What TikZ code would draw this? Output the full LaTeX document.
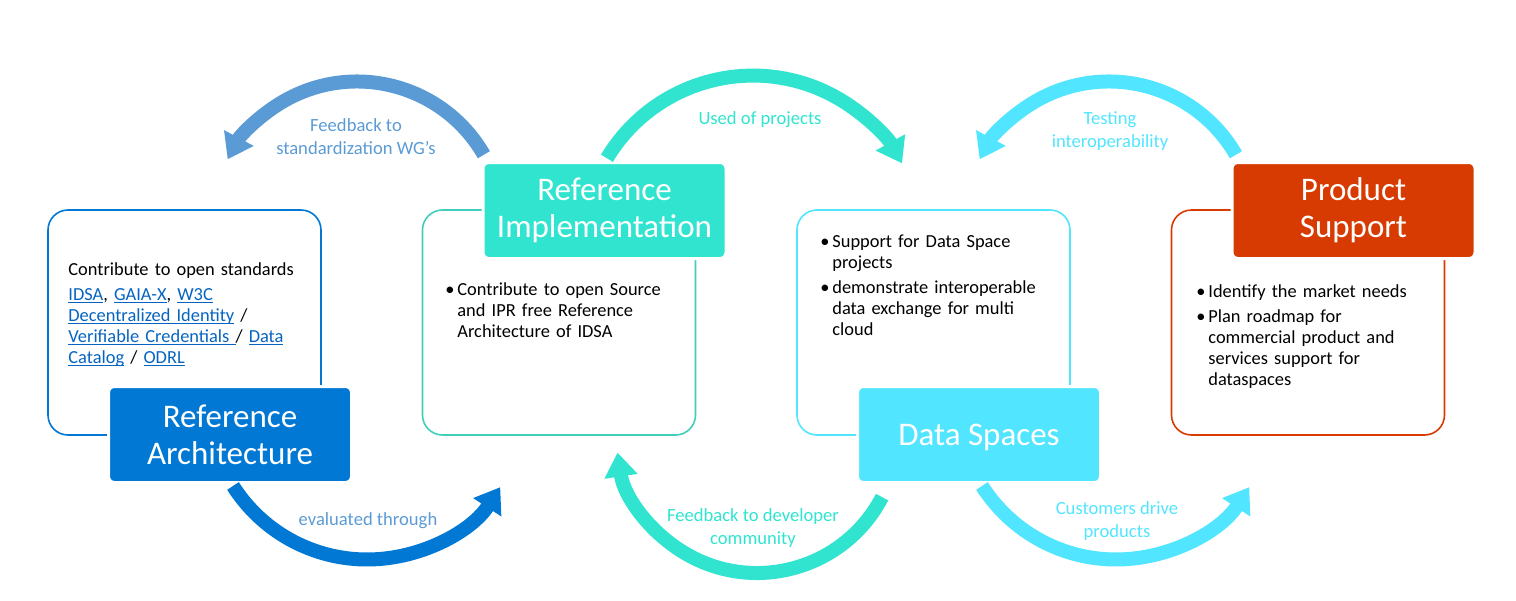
\documentclass[tikz,border=0pt]{standalone}
\usepackage{fontspec}
\setmainfont{Carlito}
\usetikzlibrary{arrows.meta}

\definecolor{archblue}{RGB}{0,120,212}
\definecolor{fbblue}{RGB}{91,155,213}
\definecolor{implteal}{RGB}{48,228,208}
\definecolor{implline}{RGB}{64,206,186}
\definecolor{dscyan}{RGB}{82,229,255}
\definecolor{prodorange}{RGB}{216,59,1}
\definecolor{linkblue}{RGB}{5,99,193}

\newcommand\titlefnt{\fontsize{16.5}{18.5}\selectfont}
\newcommand\textfnt{\fontsize{9.2}{10.5}\selectfont}
\newcommand\labelfnt{\fontsize{9.3}{11.5}\selectfont}
\newcommand\bitem{\par\noindent\hangindent=6pt\hangafter=1\makebox[6pt][l]{\textbullet}\strut}
\newcommand\lnk[1]{\textcolor{linkblue}{\setbox0\hbox{#1}\rlap{\rule[-1.4pt]{\wd0}{0.45pt}}\box0}}

\begin{document}
\begin{tikzpicture}[x=0.5pt, y=-0.5pt,
  panel/.style={draw, rounded corners=10pt, line width=0.8pt, minimum width=136.5pt, minimum height=112.5pt},
  head/.style={rounded corners=3pt, draw=white, line width=1.5pt, minimum width=121.5pt, minimum height=48pt, text=white, font=\titlefnt, align=center},
  body/.style={font=\textfnt, text width=122pt, align=left, inner sep=0pt, anchor=north west, execute at begin node={\setlength\parskip{2pt}}},
  arclabel/.style={font=\labelfnt, align=center},
  cycle/.style={line width=7pt, -{Triangle[length=12pt,width=16pt]}}]
\useasboundingbox (0,0) rectangle (1516,600);

% boxes
\node[panel, draw=archblue] (archpanel) at (184.5,322.5) {};
\node[panel, draw=implline] (implpanel) at (559,322.5) {};
\node[panel, draw=dscyan] (dspanel) at (933.5,322.5) {};
\node[panel, draw=prodorange] (prodpanel) at (1308,322.5) {};

\node[head, fill=archblue] (arch) at (230,434.5) {Reference\\Architecture};
\node[head, fill=implteal] (impl) at (604.5,210.5) {Reference\\Implementation};
\node[head, fill=dscyan, text height=14.6pt, text depth=3.3pt] (ds) at (979,434.5) {Data Spaces};
\node[head, fill=prodorange] (prod) at (1353.5,210.5) {Product\\Support};

% texts
\node[body] (archtext) at (68,260) {\strut Contribute to open standards\par
  \lnk{IDSA}, \lnk{GAIA-X}, \lnk{W3C}\newline
  \lnk{Decentralized Identity} /\newline
  \lnk{Verifiable Credentials\ }/ \lnk{Data}\newline
  \lnk{Catalog} / \lnk{ODRL}\par};
\node[body] (impltext) at (445,270) {\bitem Contribute to open Source\newline and IPR free Reference\newline Architecture of IDSA\par};
\node[body] (dstext) at (820,222) {\bitem Support for Data Space\newline projects
  \bitem demonstrate interoperable\newline data exchange for multi\newline cloud\par};
\node[body] (prodtext) at (1196,272) {\bitem Identify the market needs
  \bitem Plan roadmap for\newline commercial product and\newline services support for\newline dataspaces\par};

% arrows
\coordinate (fbctr) at (357,228);
\coordinate (usedctr) at (753,246);
\coordinate (testctr) at (1109,228);
\coordinate (evalctr) at (367,400.6);
\coordinate (devctr) at (757,432);
\coordinate (custctr) at (1116,400.6);
\draw[cycle, fbblue] (fbctr) ++(-30:146.5) arc[start angle=-30, end angle=-152, radius=146.5];
\draw[cycle, implteal] (usedctr) ++(-149:170.4) arc[start angle=-149, end angle=-29, radius=170.4];
\draw[cycle, dscyan] (testctr) ++(-30:146.5) arc[start angle=-30, end angle=-152, radius=146.5];
\draw[cycle, archblue] (evalctr) ++(-212.5:158.9) arc[start angle=-212.5, end angle=-327, radius=158.9];
\draw[cycle, implteal] (devctr) ++(27.5:141) arc[start angle=27.5, end angle=171.6, radius=141];
\draw[cycle, dscyan] (custctr) ++(-212.5:158.9) arc[start angle=-212.5, end angle=-327, radius=158.9];

\node[arclabel, text=fbblue] (fblabel) at (356,137) {Feedback to\\standardization WG’s};
\node[arclabel, text=implteal] (usedlabel) at (760,120) {Used of projects};
\node[arclabel, text=dscyan] (testlabel) at (1110,131.5) {Testing\\interoperability};
\node[arclabel, text=fbblue] (evallabel) at (368,521) {evaluated through};
\node[arclabel, text=implteal] (devlabel) at (753,528) {Feedback to developer\\community};
\node[arclabel, text=dscyan] (custlabel) at (1117,521) {Customers drive\\products};
\end{tikzpicture}
\end{document}
